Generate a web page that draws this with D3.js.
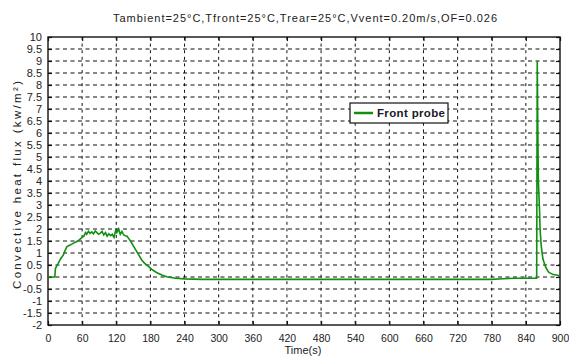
<!DOCTYPE html>
<html>
<head>
<meta charset="utf-8">
<script src="https://cdn.jsdelivr.net/npm/d3@7"></script>
<style>
  body { margin: 0; background: #fff; }
  svg { display: block; font-family: "Liberation Sans Narrow", "Liberation Sans", Arial, sans-serif; }
</style>
</head>
<body>
<div id="chart"></div>
<script>
// time (s) and convective heat flux (kw/m2)
const timeS = [0, 12, 13, 15, 18, 22, 27, 30, 33, 36, 39, 44, 50, 55, 60, 63, 66, 68, 71, 74,
  77, 80, 83, 86, 89, 92, 95, 98, 101, 104, 107, 110, 113, 116, 119, 121, 124, 127, 130, 133,
  136, 139, 142, 145, 150, 155, 160, 165, 170, 176, 182, 190, 200, 210, 225, 240, 270, 300, 400, 500,
  600, 700, 780, 800, 820, 859, 860, 861, 862, 864, 865, 867, 870, 875, 880, 888, 900];
const frontProbe = [0, 0, 0.35, 0.45, 0.57, 0.75, 0.92, 1.1, 1.26, 1.3, 1.33, 1.4, 1.47, 1.55, 1.65, 1.7, 1.85, 1.78, 1.9, 1.82,
  1.88, 1.8, 1.92, 1.85, 1.78, 1.83, 1.9, 1.75, 1.85, 1.7, 1.8, 1.72, 1.78, 1.65, 1.95, 1.85, 2.0, 1.78, 1.9, 1.75,
  1.72, 1.7, 1.6, 1.5, 1.3, 1.1, 0.9, 0.7, 0.57, 0.45, 0.33, 0.2, 0.08, 0.0, -0.05, -0.08, -0.1, -0.1, -0.1, -0.1,
  -0.1, -0.1, -0.1, -0.07, -0.05, -0.05, 9.0, 6.1, 4.0, 2.8, 2.0, 1.3, 0.75, 0.4, 0.2, 0.1, 0.05];

const xTicks = d3.range(0, 901, 60);
const yTicks = d3.range(-2, 10.01, 0.5);
const yTickLabels = yTicks.map(d => String(+d.toFixed(1)));

const titleText = "Tambient=25\u00B0C,Tfront=25\u00B0C,Trear=25\u00B0C,Vvent=0.20m/s,OF=0.026";
const seriesName = "Front probe";

const W = 569, H = 360;
const margin = { top: 37, right: 9, bottom: 35, left: 48 };
const width = W - margin.left - margin.right;
const height = H - margin.top - margin.bottom;

const svg = d3.select("#chart").append("svg")
  .attr("width", W)
  .attr("height", H);

const g = svg.append("g")
  .attr("transform", `translate(${margin.left},${margin.top})`);

const x = d3.scaleLinear().domain([0, 900]).range([0, width]);
const y = d3.scaleLinear().domain([-2, 10]).range([height, 0]);

// dashed grid
g.append("g")
  .selectAll("line")
  .data(xTicks.slice(1, -1))
  .enter().append("line")
  .attr("x1", d => x(d)).attr("x2", d => x(d))
  .attr("y1", 0).attr("y2", height)
  .attr("stroke", "#111").attr("stroke-width", 1)
  .attr("stroke-dasharray", "3,3.6");

g.append("g")
  .selectAll("line")
  .data(yTicks.slice(1, -1))
  .enter().append("line")
  .attr("x1", 0).attr("x2", width)
  .attr("y1", d => y(d)).attr("y2", d => y(d))
  .attr("stroke", "#111").attr("stroke-width", 1)
  .attr("stroke-dasharray", "4,3.5");

// axes, ticks pointing inward like matlab
const xAxis = g.append("g")
  .attr("transform", `translate(0,${height})`)
  .call(d3.axisBottom(x).tickValues(xTicks).tickSizeInner(-4).tickSizeOuter(0).tickPadding(10));
const yAxis = g.append("g")
  .call(d3.axisLeft(y).tickValues(yTicks).tickFormat((d, i) => yTickLabels[i]).tickSizeInner(-4).tickSizeOuter(0).tickPadding(6));
g.append("g")
  .call(d3.axisTop(x).tickValues(xTicks).tickFormat("").tickSizeInner(-4).tickSizeOuter(0));
g.append("g")
  .attr("transform", `translate(${width},0)`)
  .call(d3.axisRight(y).tickValues(yTicks).tickFormat("").tickSizeInner(-4).tickSizeOuter(0));

svg.selectAll(".domain").remove();
svg.selectAll(".tick line").attr("stroke", "#111").attr("stroke-width", 1.2);

xAxis.selectAll("text")
  .attr("font-size", 10.5)
  .attr("fill", "#222");
yAxis.selectAll("text")
  .attr("font-size", 11)
  .attr("fill", "#222");

g.append("rect")
  .attr("width", width).attr("height", height)
  .attr("fill", "none").attr("stroke", "#111").attr("stroke-width", 1.4);

// data line
const series = timeS.map((t, i) => ({ t, v: frontProbe[i] }));
g.append("path")
  .datum(series)
  .attr("fill", "none")
  .attr("stroke", "#109010")
  .attr("stroke-width", 1.6)
  .attr("d", d3.line().x(d => x(d.t)).y(d => y(d.v)));

// legend
const lg = g.append("g").attr("transform", `translate(${302},${66})`);
lg.append("rect")
  .attr("width", 98).attr("height", 20)
  .attr("fill", "#fff").attr("stroke", "#111").attr("stroke-width", 1.2);
lg.append("line")
  .attr("x1", 4).attr("x2", 23).attr("y1", 10).attr("y2", 10)
  .attr("stroke", "#109010").attr("stroke-width", 2.5);
lg.append("text")
  .attr("x", 27).attr("y", 14)
  .attr("font-size", 11.5)
  .attr("font-weight", "bold")
  .attr("fill", "#1a1a2a")
  .attr("textLength", 68)
  .text(seriesName);

// titles
svg.append("text")
  .attr("x", 305).attr("y", 22)
  .attr("text-anchor", "middle")
  .attr("font-size", 11)
  .attr("fill", "#222")
  .attr("textLength", 384)
  .text(titleText);

svg.append("text")
  .attr("x", 303).attr("y", 354)
  .attr("text-anchor", "middle")
  .attr("font-size", 11)
  .attr("fill", "#222")
  .text("Time(s)");

svg.append("text")
  .attr("transform", "translate(21,185) rotate(-90)")
  .attr("text-anchor", "middle")
  .attr("font-size", 11.5)
  .attr("fill", "#222")
  .attr("textLength", 208)
  .text("Convective heat flux (kw/m\u00B2)");
</script>
</body>
</html>
